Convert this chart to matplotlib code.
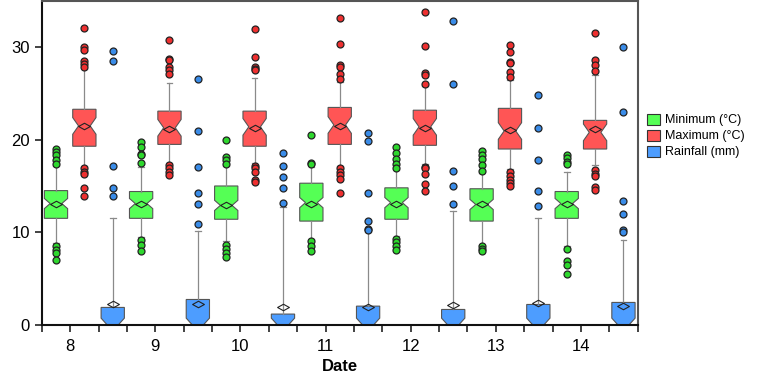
import numpy as np
import matplotlib
matplotlib.use("Agg")
import matplotlib.pyplot as plt
from matplotlib.patches import Patch

plt.rcParams['font.family'] = ['Liberation Sans', 'DejaVu Sans']

dates = [8, 9, 10, 11, 12, 13, 14]
series = ["Minimum (°C)", "Maximum (°C)", "Rainfall (mm)"]

# Minimum temperature
min_q1 = [11.5, 11.5, 11.4, 11.2, 11.4, 11.2, 11.5]
min_med = [13.1, 13.1, 12.9, 13.2, 13.2, 13.0, 13.1]
min_q3 = [14.5, 14.4, 15.0, 15.3, 14.8, 14.7, 14.4]
min_mean = [13.0, 13.0, 12.9, 13.1, 13.1, 13.0, 13.0]
min_lo = [8.8, 9.5, 9.0, 9.3, 9.6, 8.6, 8.5]
min_hi = [17.2, 17.1, 17.2, 17.0, 16.7, 16.4, 16.5]
min_fliers = [
    [19.0, 18.7, 18.3, 17.8, 17.4, 8.5, 8.05, 7.7, 7.0],
    [19.8, 19.2, 18.5, 18.4, 17.5, 9.2, 8.6, 8.0],
    [20.0, 18.1, 17.8, 17.4, 8.6, 8.2, 7.7, 7.3],
    [20.5, 17.5, 17.35, 9.06, 8.5, 8.0],
    [19.2, 18.6, 17.9, 17.4, 16.9, 9.3, 8.95, 8.5, 8.05],
    [18.8, 18.3, 17.9, 17.3, 16.6, 8.5, 8.2, 8.0],
    [18.3, 18.0, 17.6, 17.35, 8.16, 6.9, 6.5, 5.5],
]

# Maximum temperature
max_q1 = [19.3, 19.5, 19.3, 19.5, 19.4, 19.0, 19.0]
max_med = [21.5, 21.3, 21.4, 21.6, 21.4, 20.95, 20.8]
max_q3 = [23.3, 23.1, 23.1, 23.5, 23.2, 23.4, 22.1]
max_mean = [21.5, 21.2, 21.3, 21.5, 21.3, 21.1, 21.2]
max_lo = [17.2, 17.5, 17.5, 17.2, 17.4, 16.8, 17.3]
max_hi = [27.7, 26.1, 26.7, 26.3, 25.8, 26.5, 27.0]
max_fliers = [
    [32.1, 30.0, 29.75, 28.5, 28.2, 27.9, 16.9, 16.5, 16.3, 14.8, 13.9],
    [30.8, 28.7, 28.6, 27.9, 27.5, 27.1, 17.3, 16.9, 16.5, 16.2],
    [32.0, 29.0, 27.9, 27.7, 27.5, 17.2, 16.9, 16.5, 15.6, 15.4],
    [33.2, 30.4, 28.05, 27.9, 27.1, 26.6, 16.9, 16.5, 16.2, 15.8, 14.25],
    [33.8, 30.1, 27.2, 27.0, 26.0, 17.06, 16.9, 16.3, 15.2, 14.5],
    [30.3, 29.5, 28.4, 28.3, 27.3, 26.8, 16.5, 16.1, 15.6, 15.3, 15.0],
    [31.6, 28.6, 28.05, 27.4, 16.7, 16.3, 16.05, 14.9, 14.6],
]

# Rainfall
rain_q1 = [0, 0, 0, 0, 0, 0, 0]
rain_med = [0, 0, 0, 0, 0, 0, 0]
rain_q3 = [1.86, 2.72, 1.14, 2.0, 1.64, 2.18, 2.4]
rain_mean = [2.18, 2.18, 1.86, 1.9, 2.07, 2.36, 2.0]
rain_lo = [0, 0, 0, 0, 0, 0, 0]
rain_hi = [11.5, 10.1, 12.7, 10.0, 12.3, 11.5, 9.2]
rain_fliers = [
    [29.6, 28.5, 17.2, 14.8, 13.9],
    [26.6, 21.0, 17.1, 14.25, 13.1, 10.9],
    [18.6, 17.2, 16.0, 14.8, 13.2],
    [20.7, 19.9, 14.2, 11.2, 10.3, 10.2],
    [32.8, 26.0, 16.6, 15.0, 13.0],
    [24.8, 21.3, 17.8, 14.5, 12.8],
    [30.0, 23.0, 13.4, 12.0, 10.2, 10.0],
]

notch_half = [0.55, 0.9, 0.7]

box_colors = ['#55ff55', '#ff5555', '#4d9dff']
flier_colors = ['#2ed82e', '#ee3030', '#3a8ce8']

data = [
    (min_q1, min_med, min_q3, min_mean, min_lo, min_hi, min_fliers),
    (max_q1, max_med, max_q3, max_mean, max_lo, max_hi, max_fliers),
    (rain_q1, rain_med, rain_q3, rain_mean, rain_lo, rain_hi, rain_fliers),
]

fig = plt.figure(figsize=(7.6, 3.81), dpi=100)
ax = fig.add_axes([0.055, 0.148, 0.784, 0.849])

diamond = [(-1, 0), (0, 0.55), (1, 0), (0, -0.55), (-1, 0)]

for s, (q1, med, q3, mean, lo, hi, fl) in enumerate(data):
    stats = []
    for i in range(len(dates)):
        stats.append(dict(q1=q1[i], med=med[i], q3=q3[i], mean=mean[i],
                          whislo=lo[i], whishi=hi[i], fliers=fl[i],
                          cilo=med[i] - notch_half[s], cihi=med[i] + notch_half[s]))
    pos = [3 * i + s + 0.5 for i in range(len(dates))]
    ax.bxp(stats, positions=pos, widths=0.82, shownotches=True, showmeans=True,
           patch_artist=True, manage_ticks=False, capwidths=0.2,
           boxprops=dict(facecolor=box_colors[s], edgecolor='#555555', linewidth=0.8),
           whiskerprops=dict(color='#8a8a8a', linewidth=0.9),
           capprops=dict(color='#8a8a8a', linewidth=0.9),
           medianprops=dict(linewidth=0),
           meanprops=dict(marker=diamond, markerfacecolor='none',
                          markeredgecolor='#222222', markersize=8.5, markeredgewidth=0.8),
           flierprops=dict(marker='o', markerfacecolor=flier_colors[s],
                           markeredgecolor='#222222', markersize=5, markeredgewidth=0.9))

ax.set_xlim(0, 3 * len(dates))
ax.set_ylim(0, 35)
ax.set_yticks([0, 10, 20, 30])
ax.set_xticks([3 * i + 1 for i in range(len(dates))])
ax.set_xticklabels([str(d) for d in dates])
ax.set_xticks(range(0, 3 * len(dates) + 1), minor=True)
ax.tick_params(axis='both', which='both', direction='out', length=5, width=1.2,
               labelsize=12, color='#222222')
ax.tick_params(axis='x', pad=5)
ax.set_xlabel("Date", fontsize=12, fontweight='bold', labelpad=4)

for side in ['left', 'bottom']:
    ax.spines[side].set_linewidth(1.5)
    ax.spines[side].set_color('#111111')
for side in ['top', 'right']:
    ax.spines[side].set_linewidth(1.5)
    ax.spines[side].set_color('#555555')

handles = [Patch(facecolor=box_colors[s], edgecolor='#333333', linewidth=0.8, label=series[s])
           for s in range(3)]
fig.legend(handles=handles, loc='upper left', bbox_to_anchor=(0.845, 0.715),
           frameon=False, fontsize=9, handlelength=1.0, handleheight=1.0,
           handletextpad=0.4, labelspacing=0.25, borderaxespad=0)

fig.savefig("out.png", dpi=100)
